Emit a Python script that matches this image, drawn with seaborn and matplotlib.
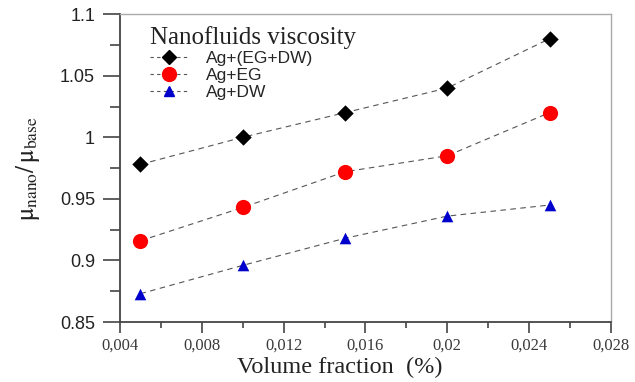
import matplotlib
matplotlib.use("Agg")
import matplotlib.pyplot as plt
from matplotlib.lines import Line2D
from matplotlib.ticker import MultipleLocator, FuncFormatter
import seaborn as sns
import pandas as pd

# Relative viscosity of Ag nanofluids vs volume fraction
volume_fraction = [0.005, 0.010, 0.015, 0.020, 0.025]
series_names = ["Ag+(EG+DW)", "Ag+EG", "Ag+DW"]
visc_eg_dw = [0.978, 1.000, 1.020, 1.040, 1.080]
visc_eg = [0.916, 0.943, 0.972, 0.985, 1.020]
visc_dw = [0.873, 0.896, 0.918, 0.936, 0.945]

marker_colors = ["black", "#ff0000", "#0000cc"]
marker_shapes = ["D", "o", "^"]
marker_sizes = [70, 120, 70]

rows = []
for name, vals in zip(series_names, [visc_eg_dw, visc_eg, visc_dw]):
    for x, y in zip(volume_fraction, vals):
        rows.append({"phi": x, "ratio": y, "series": name})
df = pd.DataFrame(rows)

sns.set_style("white")
plt.rcParams["mathtext.fontset"] = "stix"

fig = plt.figure(figsize=(6.35, 3.82), dpi=100)
ax = fig.add_axes([0.189, 0.157, 0.773, 0.806])

for name, col, mk, ms in zip(series_names, marker_colors, marker_shapes, marker_sizes):
    sub = df[df["series"] == name]
    sns.lineplot(data=sub, x="phi", y="ratio", ax=ax, color="#555555",
                 linewidth=0.8, linestyle=(0, (5, 4)), legend=False)
    sns.scatterplot(data=sub, x="phi", y="ratio", ax=ax, color=col, marker=mk,
                    s=ms, edgecolor=col, linewidth=0, legend=False, zorder=3)

ax.set_xlim(0.004, 0.028)
ax.set_ylim(0.85, 1.1)
ax.xaxis.set_major_locator(MultipleLocator(0.004))
ax.xaxis.set_minor_locator(MultipleLocator(0.002))
ax.yaxis.set_major_locator(MultipleLocator(0.05))
ax.yaxis.set_minor_locator(MultipleLocator(0.025))


def comma_fmt(v, pos):
    s = f"{v:.3f}".rstrip("0").rstrip(".")
    return s.replace(".", ",")


def y_fmt(v, pos):
    return f"{v:.2f}".rstrip("0").rstrip(".")


ax.xaxis.set_major_formatter(FuncFormatter(comma_fmt))
ax.yaxis.set_major_formatter(FuncFormatter(y_fmt))

ax.tick_params(axis="x", which="major", direction="out", length=8, width=1.2,
               color="#444444", bottom=True, pad=3)
ax.tick_params(axis="x", which="minor", direction="out", length=4, width=1.2,
               color="#444444", bottom=True)
ax.tick_params(axis="y", which="major", direction="out", length=12, width=1.2,
               color="#444444", left=True, pad=6)
ax.tick_params(axis="y", which="minor", direction="out", length=7, width=1.2,
               color="#444444", left=True)
for lab in ax.get_xticklabels():
    lab.set_family("Liberation Serif")
    lab.set_fontsize(12)
    lab.set_color("#3a3a3a")
for lab in ax.get_yticklabels():
    lab.set_family("Liberation Sans")
    lab.set_fontsize(13)
    lab.set_color("#222222")

for side in ["left", "bottom"]:
    ax.spines[side].set_color("#444444")
    ax.spines[side].set_linewidth(1.3)
for side in ["top", "right"]:
    ax.spines[side].set_color("#aaaaaa")
    ax.spines[side].set_linewidth(1.0)

ax.set_xlabel("Volume fraction  (%)", family="Liberation Serif", fontsize=17.5,
              color="#222222")
ax.xaxis.set_label_coords(0.448, -0.112)
ax.set_ylabel(r"$\mathrm{\mu}_{\mathrm{nano}}/\,\mathrm{\mu}_{\mathrm{base}}$",
              fontsize=18, color="#222222")
ax.yaxis.set_label_coords(-0.159, 0.5)

handles = [
    Line2D([], [], color="#555555", linewidth=0.8, linestyle=(0, (3, 3)),
           marker=mk, markersize=(10 if mk == "o" else 7.5), markerfacecolor=c,
           markeredgecolor=c)
    for c, mk in zip(marker_colors, marker_shapes)
]
leg = ax.legend(handles, series_names, loc="upper left", frameon=False,
                title="Nanofluids viscosity", bbox_to_anchor=(0.04, 0.995),
                prop={"family": "Liberation Sans", "size": 12.5},
                handlelength=2.2, labelspacing=0.1, borderaxespad=0.2,
                handletextpad=1.0)
leg.get_title().set_family("Liberation Serif")
leg.get_title().set_fontsize(18)
leg.get_title().set_color("#222222")
leg._legend_box.align = "left"

fig.savefig("out.png", dpi=100)
